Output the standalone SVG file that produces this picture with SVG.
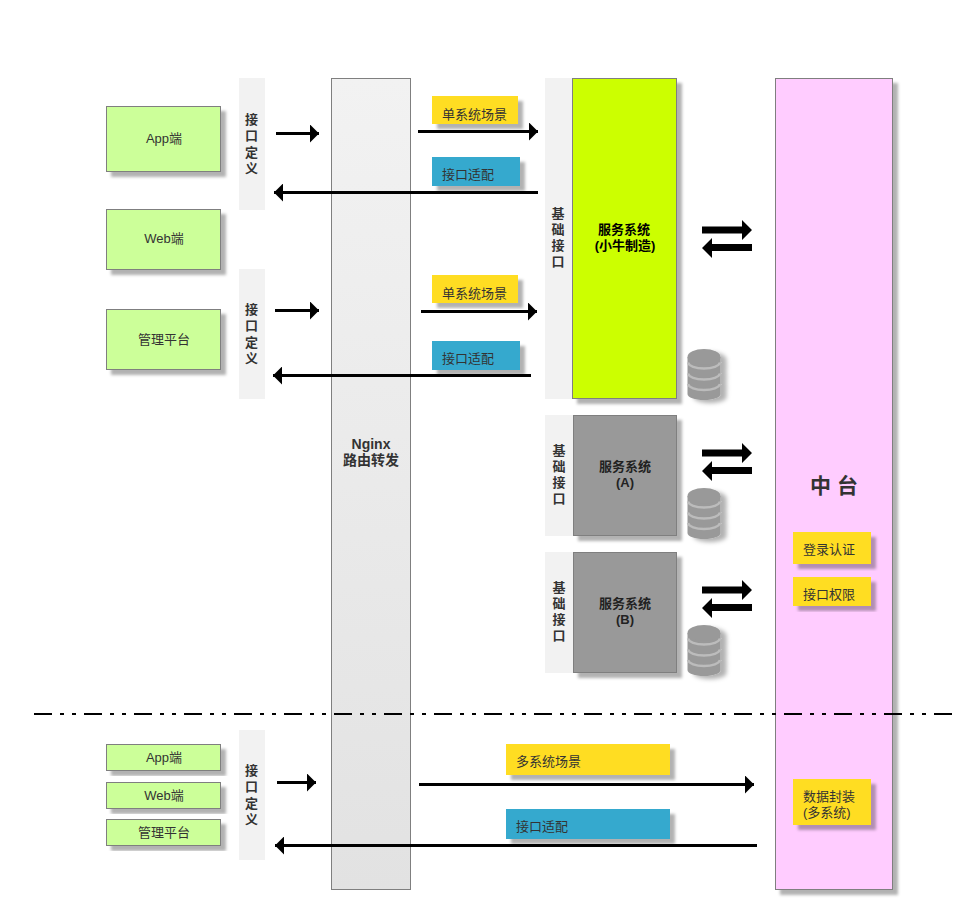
<svg xmlns="http://www.w3.org/2000/svg" width="960" height="901" viewBox="0 0 960 901">
<defs>
<style>
text{font-family:"Liberation Sans","Noto Sans CJK SC",sans-serif;font-size:13px;fill:#333;text-anchor:middle}
.l{text-anchor:start}
.b{font-weight:bold}
.k{fill:#000}
.d{fill:#222}
.x{font-size:14px}
.n{stroke:#7f7f7f;stroke-width:1;filter:url(#s)}
.c{fill:#ccff99}
.y{fill:#ffdd22;filter:url(#s)}
.t{fill:#36a9ce;filter:url(#s)}
.st{fill:#f2f2f2}
.a{fill:none;stroke:#000;stroke-width:3}
.band{fill:none;stroke:#bcbcbc;stroke-width:2.500}
</style>
<filter id="s" x="-20%" y="-20%" width="140%" height="140%"><feDropShadow dx="5" dy="5" stdDeviation="1.5" flood-color="#000" flood-opacity="0.3"/></filter>
<filter id="s2" x="-30%" y="-20%" width="170%" height="140%"><feDropShadow dx="6" dy="3" stdDeviation="2" flood-color="#000" flood-opacity="0.3"/></filter>
<linearGradient id="g" x1="0" y1="0" x2="0" y2="1"><stop offset="0" stop-color="#f2f2f2"/><stop offset="1" stop-color="#e2e2e2"/></linearGradient>
<marker id="m" viewBox="0 0 9 18" refX="9" refY="9" markerWidth="9" markerHeight="18" markerUnits="userSpaceOnUse" orient="auto"><path d="M0 0L9 9L0 18Z" fill="#000"/></marker>
<g id="cyl"><path fill="#999" d="M0.500 8V45c0 3.500 7.400 6 16.500 6s16.500-2.500 16.500-6V8Z"/><path class="band" d="M1 35c1 3.500 7.400 6 16 6s15-2.500 16-6"/><path class="band" d="M1 24.500c1 3.500 7.400 6 16 6s15-2.500 16-6"/><path class="band" d="M1 13.500c1 3.500 7.400 6 16 6s15-2.500 16-6"/><ellipse fill="#999" cx="17" cy="8" rx="16.500" ry="8"/></g>
</defs>
<rect width="960" height="901" fill="#fff"/>
<g id="strips">
<g id="if1"><rect class="st" x="239" y="78" width="26" height="132"/><g class="b"><text x="251.500" y="124">接</text><text x="251.500" y="140">口</text><text x="251.500" y="157">定</text><text x="251.500" y="173">义</text></g></g>
<g id="if2"><rect class="st" x="239" y="269" width="26" height="130"/><g class="b"><text x="251.500" y="314">接</text><text x="251.500" y="330">口</text><text x="251.500" y="347">定</text><text x="251.500" y="363">义</text></g></g>
<g id="if3"><rect class="st" x="239" y="730" width="26" height="130"/><g class="b"><text x="251.500" y="775">接</text><text x="251.500" y="791">口</text><text x="251.500" y="808">定</text><text x="251.500" y="824">义</text></g></g>
</g>
<g id="app1"><rect class="n c" x="106.5" y="106.5" width="114" height="65"/><text x="164" y="143">App端</text></g>
<g id="web1"><rect class="n c" x="106.5" y="209.5" width="114" height="60"/><text x="164" y="243">Web端</text></g>
<g id="mgr1"><rect class="n c" x="106.5" y="309.5" width="114" height="60"/><text x="164" y="344">管理平台</text></g>
<g id="app2"><rect class="n c" x="106.5" y="744.5" width="114" height="26"/><text x="164" y="762">App端</text></g>
<g id="web2"><rect class="n c" x="106.5" y="782.5" width="114" height="26"/><text x="164" y="800">Web端</text></g>
<g id="mgr2"><rect class="n c" x="106.5" y="819.5" width="114" height="26"/><text x="164" y="837">管理平台</text></g>
<g id="nginx"><rect x="331.5" y="78.5" width="79" height="811" fill="url(#g)" stroke="#7f7f7f"/><g class="b"><text class="x" x="371" y="449">Nginx</text><text class="x" x="371" y="465">路由转发</text></g></g>
<g id="base1"><rect class="st" x="545" y="78" width="28" height="321"/><g class="b"><text x="558" y="218">基</text><text x="558" y="234">础</text><text x="558" y="250">接</text><text x="558" y="266">口</text></g></g>
<g id="sys0"><rect class="n" fill="#ccff00" x="572.5" y="78.5" width="104" height="320"/><g class="b"><text class="k" x="624" y="234">服务系统</text><text class="k" x="625" y="250">(小牛制造)</text></g></g>
<g id="base2"><rect class="st" x="545" y="415" width="28" height="121"/><g class="b"><text x="559" y="455">基</text><text x="559" y="471">础</text><text x="559" y="487">接</text><text x="559" y="503">口</text></g></g>
<g id="sysA"><rect class="n" fill="#999" x="573.5" y="415.5" width="103" height="120"/><g class="b"><text class="d" x="625" y="471">服务系统</text><text class="d" x="625" y="487">(A)</text></g></g>
<g id="base3"><rect class="st" x="545" y="552" width="28" height="121"/><g class="b"><text x="559" y="592">基</text><text x="559" y="608">础</text><text x="559" y="624">接</text><text x="559" y="640">口</text></g></g>
<g id="sysB"><rect class="n" fill="#999" x="573.5" y="552.5" width="103" height="120"/><g class="b"><text class="d" x="625" y="608">服务系统</text><text class="d" x="625" y="624">(B)</text></g></g>
<g id="db0" filter="url(#s2)"><use href="#cyl" x="687" y="349"/></g>
<g id="db1" filter="url(#s2)"><use href="#cyl" x="687" y="488"/></g>
<g id="db2" filter="url(#s2)"><use href="#cyl" x="687" y="625"/></g>
<g id="zt"><rect class="n" fill="#ffccff" x="775.5" y="78.5" width="117" height="811"/><text class="b" x="834" y="493" style="font-size:21px">中 台</text></g>
<g id="login"><rect class="y" x="793" y="532" width="78" height="32"/><text class="l" x="803" y="554">登录认证</text></g>
<g id="perm"><rect class="y" x="793" y="577" width="78" height="29"/><text class="l" x="803" y="599">接口权限</text></g>
<g id="pack"><rect class="y" x="793" y="779" width="78" height="46"/><text class="l" x="803" y="801">数据封装</text><text class="l" x="803" y="817">(多系统)</text></g>
<g id="tag1"><rect class="y" x="432" y="96" width="86" height="28"/><text class="l" x="442" y="119">单系统场景</text></g>
<g id="tag2"><rect class="t" x="432" y="157" width="88" height="29"/><text class="l" x="442" y="179">接口适配</text></g>
<g id="tag3"><rect class="y" x="432" y="275" width="86" height="28"/><text class="l" x="442" y="298">单系统场景</text></g>
<g id="tag4"><rect class="t" x="432" y="341" width="88" height="29"/><text class="l" x="442" y="363">接口适配</text></g>
<g id="tag5"><rect class="y" x="506" y="744" width="164" height="31"/><text class="l" x="516" y="766">多系统场景</text></g>
<g id="tag6"><rect class="t" x="506" y="809" width="164" height="30"/><text class="l" x="516" y="831">接口适配</text></g>
<g id="connectors">
<path class="a" d="M276 133.500H319" marker-end="url(#m)"/>
<path class="a" d="M418 131.500H538" marker-end="url(#m)"/>
<path class="a" d="M538 192.500H274" marker-end="url(#m)"/>
<path class="a" d="M275 310.500H319" marker-end="url(#m)"/>
<path class="a" d="M421 311.500H537" marker-end="url(#m)"/>
<path class="a" d="M531 375.500H273" marker-end="url(#m)"/>
<path class="a" d="M277 782.500H316" marker-end="url(#m)"/>
<path class="a" d="M419 784.500H754" marker-end="url(#m)"/>
<path class="a" d="M757 845.500H275" marker-end="url(#m)"/>
<g id="dbl"><path d="M702 226.500H742V220L752 230L742 240V233.500H702Z"/><path d="M752 244H712V238L702 248L712 258V251H752Z"/></g>
<use href="#dbl" y="223"/>
<use href="#dbl" y="360"/>
<path d="M34 714H952" fill="none" stroke="#000" stroke-width="2" stroke-dasharray="18 8 4 8 4 8"/>
</g>
</svg>
